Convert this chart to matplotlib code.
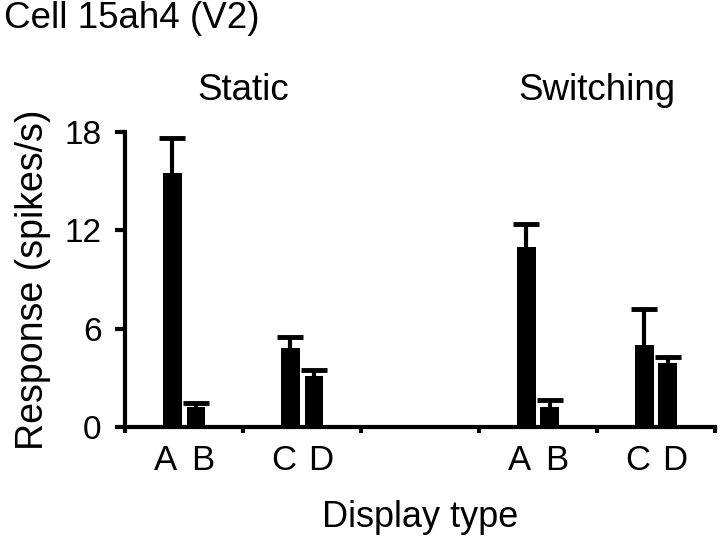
import matplotlib
matplotlib.use("Agg")
import matplotlib.pyplot as plt

plt.rcParams['font.family'] = ['Liberation Sans', 'DejaVu Sans']

title = "Cell 15ah4 (V2)"
conditions = ["Static", "Switching"]
display_types = ["A", "B", "C", "D"]
static_mean = [15.5, 1.2, 4.8, 3.1]
static_err = [2.1, 0.3, 0.7, 0.4]
switching_mean = [11.0, 1.2, 5.0, 3.9]
switching_err = [1.4, 0.45, 2.2, 0.35]
yticks = [0, 6, 12, 18]

# layout positions (x in axis units)
static_pos = [0.4, 0.6, 1.4, 1.6]
switching_pos = [3.4, 3.6, 4.4, 4.6]
group_centers = [1.0, 4.0]
width = 0.16
label_spread = 0.055  # letters sit slightly wider apart than bars

fig = plt.figure(figsize=(7.2, 5.4), dpi=100)
ax = fig.add_axes([0.174, 0.209, 0.819, 0.547])

for pos, mean, err in [(static_pos, static_mean, static_err),
                       (switching_pos, switching_mean, switching_err)]:
    ax.bar(pos, mean, width=width, color='black', zorder=3)
    _, caps, _ = ax.errorbar(pos, mean, yerr=[[0] * len(err), err], fmt='none',
                             ecolor='black', elinewidth=3, capsize=9.5,
                             capthick=3.5, zorder=2)
    caps[0].set_visible(False)

all_pos = static_pos + switching_pos
label_pos = [p - label_spread if i % 2 == 0 else p + label_spread
             for i, p in enumerate(all_pos)]

ax.set_xlim(0, 5)
ax.set_ylim(0, 18)
ax.set_yticks(yticks)
ax.set_yticklabels([str(v) for v in yticks], fontsize=24)
ax.set_xticks([0, 1, 2, 3, 4, 5])
ax.set_xticklabels([])
ax.set_xticks(label_pos, minor=True)
ax.set_xticklabels(display_types * 2, minor=True, fontsize=25)
ax.tick_params(axis='x', which='minor', length=0, pad=12)
ax.tick_params(axis='x', which='major', length=4, width=3, direction='out')
ax.tick_params(axis='y', length=7, width=3, direction='out', pad=10)

for side in ['top', 'right']:
    ax.spines[side].set_visible(False)
for side in ['left', 'bottom']:
    ax.spines[side].set_linewidth(3)
    ax.spines[side].set_capstyle('projecting')

ax.set_ylabel("Response (spikes/s)", fontsize=27, labelpad=10)
ax.set_xlabel("Display type", fontsize=26, labelpad=17)

for c, xc, yc in zip(conditions, group_centers, [1.14, 1.14]):
    ax.text(xc, yc, c, transform=ax.get_xaxis_transform(), ha='center',
            va='center', fontsize=26.5)

fig.text(0.006, 0.965, title, ha='left', va='center', fontsize=26.5)

fig.savefig("out.png", dpi=100)
